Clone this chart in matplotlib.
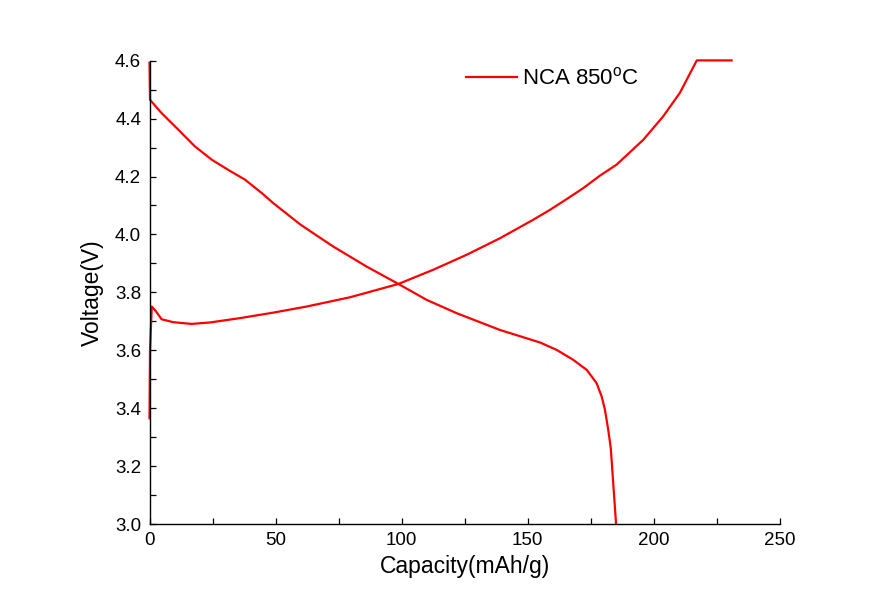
import matplotlib
matplotlib.use("Agg")
import matplotlib.pyplot as plt
from matplotlib.ticker import MultipleLocator, FormatStrFormatter

plt.rcParams['font.family'] = ['Liberation Sans', 'DejaVu Sans']
plt.rcParams['mathtext.fontset'] = 'custom'
plt.rcParams['mathtext.rm'] = 'Liberation Sans'

# Charge curve
charge_cap = [0.0, 0.2, 0.9, 2.5, 4.8, 9.4, 16.7, 24.0, 35.9, 49.1, 62.3, 79.5, 98.7,
              112.5, 125.8, 139.0, 152.2, 158.8, 165.4, 172.0, 178.6, 185.2, 195.8, 203.7,
              210.3, 217.0, 230.8]
charge_v = [3.365, 3.60, 3.751, 3.735, 3.707, 3.697, 3.691, 3.696, 3.711, 3.730, 3.751, 3.783,
            3.829, 3.878, 3.930, 3.987, 4.051, 4.085, 4.122, 4.160, 4.203, 4.241, 4.327, 4.408,
            4.489, 4.601, 4.601]

# Discharge curve
dis_cap = [0.0, 0.2, 4.8, 11.4, 18.0, 24.7, 31.2, 37.9, 44.5, 49.1, 59.7, 66.0, 72.9, 86.1,
           98.7, 109.9, 121.8, 139.0, 154.8, 161.5, 168.0, 173.4, 177.3, 179.3, 180.6, 181.9,
           182.9, 185.0]
dis_v = [4.593, 4.465, 4.419, 4.362, 4.304, 4.258, 4.223, 4.189, 4.143, 4.108, 4.035, 3.998,
         3.958, 3.889, 3.829, 3.774, 3.728, 3.670, 3.627, 3.601, 3.567, 3.532, 3.486, 3.440,
         3.394, 3.325, 3.262, 3.0]

fig = plt.figure(figsize=(8.85, 6.14), dpi=100)
ax = fig.add_axes([149.5/885, 1-524/614, (780-149.5)/885, (524-60.7)/614])

ax.plot(charge_cap, charge_v, color='#ff0000', lw=1.6, label='NCA 850$^{\\rm o}$C', clip_on=False)
ax.plot(dis_cap, dis_v, color='#ff0000', lw=1.6, clip_on=False)

ax.set_xlim(0, 250)
ax.set_ylim(3.0, 4.6)
ax.xaxis.set_major_locator(MultipleLocator(50))
ax.xaxis.set_minor_locator(MultipleLocator(25))
ax.yaxis.set_major_locator(MultipleLocator(0.2))
ax.yaxis.set_minor_locator(MultipleLocator(0.1))
ax.yaxis.set_major_formatter(FormatStrFormatter('%.1f'))

ax.spines['top'].set_visible(False)
ax.spines['right'].set_visible(False)
for s in ('left', 'bottom'):
    ax.spines[s].set_linewidth(1.0)
ax.tick_params(which='both', direction='in', length=4.5, width=0.9, labelsize=13.5)
ax.tick_params(axis='x', pad=6)
ax.tick_params(axis='y', pad=6)

ax.set_xlabel('Capacity(mAh/g)', fontsize=16.5, labelpad=4)
ax.set_ylabel('Voltage(V)', fontsize=16.5, labelpad=8)

leg = ax.legend(loc='upper left', bbox_to_anchor=(450/885, 1-52/614), bbox_transform=fig.transFigure,
                frameon=False, fontsize=16, handlelength=2.3, handletextpad=0.25, borderpad=0.2)

fig.savefig('out.png', dpi=100)
